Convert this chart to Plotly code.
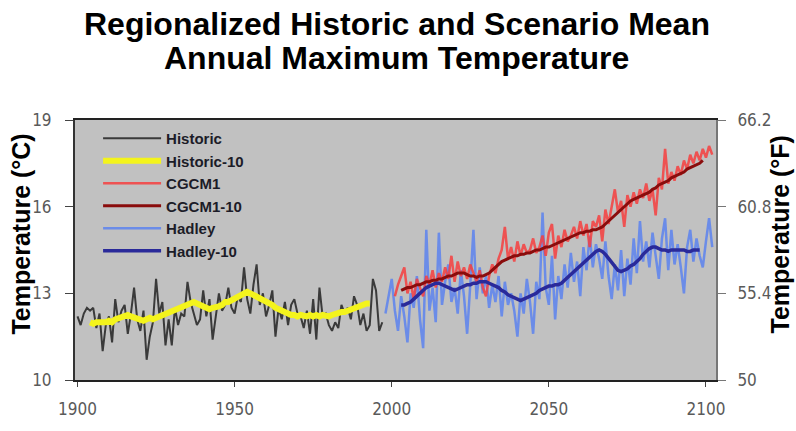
import plotly.graph_objects as go

# ---- observed / modelled annual maximum temperature (deg C) ----
hist_years = list(range(1900, 1998))
hist_temp = [
    12.2, 11.9, 12.3, 12.5, 12.4, 12.5, 11.8, 12.3, 11.0, 11.9,
    12.2, 11.3, 12.8, 12.0, 12.4, 12.6, 11.6, 12.3, 13.2, 12.1,
    11.7, 12.4, 10.7, 11.5, 12.0, 13.5, 12.3, 12.7, 11.2, 12.1,
    11.2, 12.5, 11.9, 12.3, 12.2, 13.4, 12.7, 12.3, 11.9, 12.1,
    13.1, 12.2, 12.8, 11.4, 12.3, 13.0, 12.4, 12.6, 13.2, 12.5,
    12.3, 12.9, 12.7, 13.9, 12.8, 12.3, 13.3, 14.0, 12.6, 13.0,
    12.2, 12.6, 13.1, 11.5, 12.5, 12.1, 12.7, 11.9, 12.6, 12.8,
    12.3, 12.2, 11.8, 12.4, 11.6, 12.8, 11.4, 13.2, 12.2, 12.3,
    11.9, 11.7, 12.0, 11.8, 12.6, 12.3, 12.5, 12.1, 12.9, 12.6,
    11.9, 12.3, 11.7, 11.9, 13.5, 13.1, 11.7, 12.0,
]

hist10_years = list(range(1904, 1994))
hist10_temp = [
    12.0, 11.95, 12.0, 12.0, 11.95, 12.0, 12.05, 12.0, 12.1, 12.15,
    12.2, 12.25, 12.25, 12.2, 12.15, 12.1, 12.1, 12.05, 12.1, 12.15,
    12.1, 12.15, 12.2, 12.2, 12.3, 12.3, 12.35, 12.4, 12.45, 12.5,
    12.55, 12.6, 12.65, 12.7, 12.65, 12.6, 12.5, 12.45, 12.45, 12.5,
    12.5, 12.55, 12.6, 12.7, 12.7, 12.75, 12.85, 12.9, 12.95, 13.0,
    13.05, 13.0, 12.95, 12.9, 12.85, 12.8, 12.75, 12.65, 12.6, 12.5,
    12.45, 12.4, 12.3, 12.3, 12.25, 12.25, 12.2, 12.25, 12.2, 12.2,
    12.25, 12.2, 12.25, 12.2, 12.25, 12.2, 12.2, 12.25, 12.3, 12.3,
    12.35, 12.35, 12.4, 12.45, 12.5, 12.5, 12.55, 12.6, 12.65, 12.65,
]

cgcm_years = list(range(2001, 2103))
cgcm_temp = [
    12.9, 13.3, 13.6, 13.9, 13.0, 13.4, 12.8, 13.5, 13.2, 12.9,
    13.6, 13.3, 13.8, 13.2, 13.7, 13.4, 13.9, 13.5, 14.3, 13.4,
    14.1, 13.6, 13.9, 13.5, 14.0, 13.7, 13.4, 13.8, 13.2, 12.9,
    13.6, 14.0, 13.7, 14.2, 14.5, 15.3, 14.2, 14.6, 14.1, 14.8,
    14.3, 14.7, 14.4, 14.5, 14.9, 14.4, 14.6, 15.0, 14.3, 15.1,
    15.4, 14.2, 15.0, 14.6, 15.2, 14.8, 15.0, 15.3, 14.9, 15.5,
    15.0, 15.4, 14.6, 15.5, 15.3, 15.7, 14.8, 15.9, 15.4, 16.0,
    16.6, 15.8, 16.2, 15.3, 16.4, 16.0, 16.5, 16.1, 16.6, 16.3,
    16.8, 16.2, 16.6, 15.7, 17.0, 16.6, 18.0, 16.8, 17.2, 16.9,
    17.4, 17.1, 17.6, 17.3, 17.8, 17.5, 17.9, 17.6, 18.0, 17.7,
    18.1, 17.8,
]

cgcm10_years = list(range(2003, 2100))
cgcm10_temp = [
    13.1, 13.15, 13.2, 13.2, 13.25, 13.3, 13.3, 13.35, 13.4, 13.4,
    13.45, 13.45, 13.5, 13.5, 13.55, 13.6, 13.6, 13.65, 13.7, 13.7,
    13.7, 13.65, 13.6, 13.6, 13.55, 13.6, 13.6, 13.65, 13.7, 13.8,
    13.9, 14.0, 14.1, 14.15, 14.2, 14.25, 14.3, 14.3, 14.35, 14.35,
    14.4, 14.4, 14.45, 14.5, 14.5, 14.55, 14.6, 14.6, 14.65, 14.7,
    14.75, 14.8, 14.85, 14.9, 14.95, 15.0, 15.05, 15.1, 15.1, 15.15,
    15.15, 15.2, 15.2, 15.25, 15.3, 15.4, 15.5, 15.6, 15.7, 15.8,
    15.9, 16.0, 16.1, 16.2, 16.25, 16.3, 16.35, 16.4, 16.45, 16.5,
    16.6, 16.65, 16.75, 16.8, 16.85, 16.9, 17.0, 17.05, 17.1, 17.15,
    17.2, 17.3, 17.35, 17.4, 17.45, 17.5, 17.6,
]

hadley_years = list(range(1998, 2103))
hadley_temp = [
    12.3, 12.9, 13.5, 12.4, 11.7, 12.9, 12.2, 11.3, 13.0, 12.5,
    13.6, 12.1, 11.1, 15.2, 12.4, 13.2, 12.0, 15.1, 12.6, 13.4,
    14.0, 12.7, 13.2, 12.3, 13.8, 12.9, 11.6, 13.3, 15.2, 12.8,
    13.9, 13.0, 13.6, 12.5, 13.3, 12.7, 13.6, 12.2, 13.4, 12.6,
    13.0, 12.4, 11.5, 13.0, 12.3, 13.5, 12.7, 11.6, 13.4, 12.8,
    15.8, 13.2, 12.6, 14.3, 12.1, 13.6, 12.8, 14.0, 13.2, 14.4,
    13.4, 14.1, 12.9, 14.6, 13.8, 15.0, 13.9, 14.7, 14.2, 13.5,
    14.8, 13.6, 12.8, 14.0, 13.1, 14.5, 12.9, 14.2, 13.3, 14.9,
    13.7, 15.5, 14.1, 14.8, 13.9, 15.1, 14.3, 13.5, 14.9, 15.6,
    13.8, 15.2, 14.0, 14.7, 13.9, 13.0, 14.6, 15.2, 14.1, 14.9,
    14.3, 13.9, 14.8, 15.6, 14.6,
]

hadley10_years = list(range(2003, 2099))
hadley10_temp = [
    12.6, 12.6, 12.65, 12.7, 12.8, 12.9, 13.0, 13.1, 13.2, 13.25,
    13.3, 13.35, 13.35, 13.3, 13.25, 13.2, 13.15, 13.1, 13.15, 13.2,
    13.25, 13.3, 13.3, 13.35, 13.35, 13.4, 13.4, 13.4, 13.35, 13.3,
    13.25, 13.2, 13.1, 13.05, 12.95, 12.9, 12.85, 12.8, 12.75, 12.8,
    12.85, 12.9, 12.95, 13.0, 13.1, 13.15, 13.2, 13.25, 13.25, 13.3,
    13.3, 13.35, 13.45, 13.55, 13.65, 13.75, 13.85, 13.95, 14.05, 14.15,
    14.25, 14.35, 14.45, 14.5, 14.45, 14.35, 14.2, 14.05, 13.9, 13.8,
    13.75, 13.8, 13.85, 13.95, 14.0, 14.1, 14.2, 14.35, 14.45, 14.55,
    14.6, 14.6, 14.55, 14.5, 14.5, 14.45, 14.5, 14.5, 14.5, 14.5,
    14.5, 14.45, 14.45, 14.5, 14.5, 14.5,
]

x_ticks = [1900, 1950, 2000, 2050, 2100]
c_ticks = [10, 13, 16, 19]
f_ticks = [50, 55.4, 60.8, 66.2]
f_labels = ["50", "55.4", "60.8", "66.2"]

TITLE_LINES = ["Regionalized Historic and Scenario Mean", "Annual Maximum Temperature"]

TICK_FONT = dict(family="Liberation Sans Narrow, Arial Narrow, DejaVu Sans Condensed, sans-serif",
                 size=17, color="#5a5a5a")
BOLD = "Liberation Sans, Arial, sans-serif"

fig = go.Figure()

# (name, x, y, colour, width, legend order)
series = [
    ("Historic", hist_years, hist_temp, "#3a3a3a", 2, 1),
    ("Historic-10", hist10_years, hist10_temp, "#f4f41c", 6, 2),
    ("Hadley", hadley_years, hadley_temp, "rgba(92,130,238,0.85)", 2.5, 5),
    ("CGCM1", cgcm_years, cgcm_temp, "rgba(246,62,62,0.85)", 2.5, 3),
    ("CGCM1-10", cgcm10_years, cgcm10_temp, "#8a0c0c", 3, 4),
    ("Hadley-10", hadley10_years, hadley10_temp, "#2a2a9a", 3.5, 6),
]
for name, xs, ys, col, w, rank in series:
    fig.add_trace(go.Scatter(
        x=xs, y=ys, mode="lines", name=name,
        line=dict(color=col, width=w),
        legendrank=rank,
    ))

# empty trace so the Fahrenheit axis is attached to the plot
fig.add_trace(go.Scatter(x=[], y=[], yaxis="y2", showlegend=False, hoverinfo="skip"))

annotations = [
    dict(text=f"<b>{TITLE_LINES[0]}</b>", xref="paper", yref="paper",
         x=0.502, y=1.37, xanchor="center", yanchor="middle", showarrow=False,
         font=dict(family=BOLD, size=32, color="black")),
    dict(text=f"<b>{TITLE_LINES[1]}</b>", xref="paper", yref="paper",
         x=0.502, y=1.237, xanchor="center", yanchor="middle", showarrow=False,
         font=dict(family=BOLD, size=32, color="black")),
    dict(text="<b>Temperature (°C)</b>", textangle=-90,
         xref="paper", yref="paper", x=-0.084, y=0.56,
         xanchor="center", yanchor="middle", showarrow=False,
         font=dict(family=BOLD, size=25, color="black")),
    dict(text="<b>Temperature (°F)</b>", textangle=-90,
         xref="paper", yref="paper", x=1.1, y=0.56,
         xanchor="center", yanchor="middle", showarrow=False,
         font=dict(family=BOLD, size=25, color="black")),
]

fig.update_layout(
    width=796, height=431,
    margin=dict(l=75, r=80, t=120, b=40),
    paper_bgcolor="white",
    plot_bgcolor="#c1c1c1",
    xaxis=dict(
        range=[1899.2, 2103.2],
        tickvals=x_ticks,
        ticks="outside", ticklen=5, tickcolor="#444", tickwidth=1,
        showline=True, linecolor="#222", linewidth=2, mirror=True,
        showgrid=False, zeroline=False,
        tickfont=TICK_FONT, ticklabelstandoff=8,
    ),
    yaxis=dict(
        range=[10, 19],
        tickvals=c_ticks,
        ticks="outside", ticklen=8, tickcolor="#444", tickwidth=1,
        showline=True, linecolor="#333", linewidth=2,
        showgrid=False, zeroline=False,
        tickfont=TICK_FONT, ticklabelstandoff=10,
    ),
    yaxis2=dict(
        overlaying="y", side="right", anchor="x",
        range=[50, 66.2],
        tickvals=f_ticks, ticktext=f_labels,
        ticks="outside", ticklen=8, tickcolor="#777", tickwidth=1,
        showline=True, linecolor="#777", linewidth=2,
        showgrid=False, zeroline=False,
        tickfont=TICK_FONT, ticklabelstandoff=8,
    ),
    legend=dict(
        x=0.036, y=0.992, xanchor="left", yanchor="top",
        bgcolor="rgba(0,0,0,0)", borderwidth=0,
        font=dict(family=BOLD, size=15, color="#1c1c28", weight="bold"),
        itemwidth=58, tracegroupgap=0,
    ),
    showlegend=True,
    annotations=annotations,
)

fig.write_html("out.html")
